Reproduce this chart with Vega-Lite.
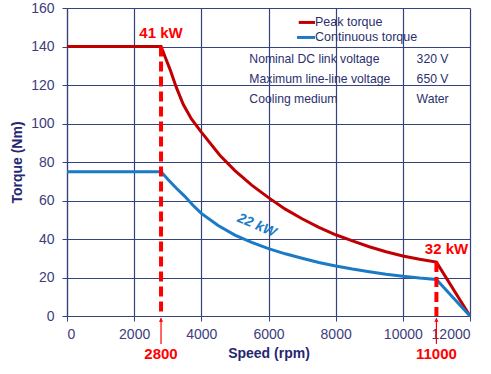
{
  "$schema": "https://vega.github.io/schema/vega-lite/v6.json",
  "width": 403,
  "height": 308,
  "autosize": {"type": "none"},
  "padding": {"left": 67, "top": 8, "right": 21, "bottom": 58},
  "background": "white",
  "config": {
    "font": "Liberation Sans",
    "view": {"stroke": null},
    "axis": {
      "gridColor": "#34437f",
      "gridWidth": 1.2,
      "gridOpacity": 1,
      "domainColor": "#34437f",
      "domainWidth": 1.2,
      "tickColor": "#34437f",
      "tickSize": 5,
      "labelFontSize": 14,
      "labelColor": "#3d3d7d",
      "titleFontSize": 14,
      "titleFontWeight": "bold",
      "titleColor": "#262673"
    }
  },
  "datasets": {
    "curves": [
      {"series": "Peak torque", "rpm": 0, "torque": 140},
      {"series": "Peak torque", "rpm": 2800, "torque": 140},
      {"series": "Peak torque", "rpm": 3070, "torque": 128},
      {"series": "Peak torque", "rpm": 3250, "torque": 119},
      {"series": "Peak torque", "rpm": 3460, "torque": 110},
      {"series": "Peak torque", "rpm": 3700, "torque": 102.5},
      {"series": "Peak torque", "rpm": 4000, "torque": 95.5},
      {"series": "Peak torque", "rpm": 4550, "torque": 83.5},
      {"series": "Peak torque", "rpm": 5000, "torque": 75.5},
      {"series": "Peak torque", "rpm": 5500, "torque": 68},
      {"series": "Peak torque", "rpm": 6000, "torque": 61.5},
      {"series": "Peak torque", "rpm": 6500, "torque": 55.5},
      {"series": "Peak torque", "rpm": 7000, "torque": 50.5},
      {"series": "Peak torque", "rpm": 7500, "torque": 46},
      {"series": "Peak torque", "rpm": 8000, "torque": 42.2},
      {"series": "Peak torque", "rpm": 8500, "torque": 39},
      {"series": "Peak torque", "rpm": 9000, "torque": 36},
      {"series": "Peak torque", "rpm": 9500, "torque": 33.4},
      {"series": "Peak torque", "rpm": 10000, "torque": 31.2},
      {"series": "Peak torque", "rpm": 10500, "torque": 29.5},
      {"series": "Peak torque", "rpm": 11000, "torque": 28},
      {"series": "Peak torque", "rpm": 12000, "torque": 0},
      {"series": "Continuous torque", "rpm": 0, "torque": 75},
      {"series": "Continuous torque", "rpm": 2800, "torque": 75},
      {"series": "Continuous torque", "rpm": 3000, "torque": 71},
      {"series": "Continuous torque", "rpm": 3250, "torque": 66.5},
      {"series": "Continuous torque", "rpm": 3500, "torque": 62.3},
      {"series": "Continuous torque", "rpm": 3750, "torque": 57.5},
      {"series": "Continuous torque", "rpm": 4000, "torque": 53.3},
      {"series": "Continuous torque", "rpm": 4500, "torque": 47},
      {"series": "Continuous torque", "rpm": 5000, "torque": 42},
      {"series": "Continuous torque", "rpm": 5500, "torque": 38.2},
      {"series": "Continuous torque", "rpm": 6000, "torque": 35},
      {"series": "Continuous torque", "rpm": 6500, "torque": 32.3},
      {"series": "Continuous torque", "rpm": 7000, "torque": 30},
      {"series": "Continuous torque", "rpm": 7500, "torque": 27.8},
      {"series": "Continuous torque", "rpm": 8000, "torque": 26},
      {"series": "Continuous torque", "rpm": 8500, "torque": 24.4},
      {"series": "Continuous torque", "rpm": 9000, "torque": 23},
      {"series": "Continuous torque", "rpm": 9500, "torque": 21.7},
      {"series": "Continuous torque", "rpm": 10000, "torque": 20.6},
      {"series": "Continuous torque", "rpm": 10500, "torque": 19.7},
      {"series": "Continuous torque", "rpm": 11000, "torque": 19},
      {"series": "Continuous torque", "rpm": 12000, "torque": 0}
    ],
    "legendRows": [
      {"series": "Peak torque", "rpm": 6900, "rpmEnd": 7385, "torque": 152.5, "label": "Peak torque"},
      {"series": "Continuous torque", "rpm": 6850, "rpmEnd": 7385, "torque": 144.7, "label": "Continuous torque"}
    ],
    "dashes": [
      {"rpm": 2800, "torque": 140, "base": 0},
      {"rpm": 11000, "torque": 28, "base": 0}
    ],
    "arrows": [
      {"rpm": 2800, "torque": -1, "bottom": -14.5},
      {"rpm": 11000, "torque": -1, "bottom": -14.5}
    ],
    "tips": [
      {"rpm": 2800, "torque": -2},
      {"rpm": 11000, "torque": -2}
    ],
    "redLabels": [
      {"rpm": 2800, "torque": -19.5, "label": "2800"},
      {"rpm": 11000, "torque": -19.5, "label": "11000"},
      {"rpm": 2800, "torque": 147, "label": "41 kW"},
      {"rpm": 11300, "torque": 35, "label": "32 kW"}
    ],
    "table": [
      {"rpm": 5430, "torque": 133.6, "text": "Nominal DC link voltage"},
      {"rpm": 5430, "torque": 123.2, "text": "Maximum line-line voltage"},
      {"rpm": 5430, "torque": 112.8, "text": "Cooling medium"},
      {"rpm": 10410, "torque": 133.6, "text": "320 V"},
      {"rpm": 10410, "torque": 123.2, "text": "650 V"},
      {"rpm": 10410, "torque": 112.8, "text": "Water"}
    ]
  },
  "encoding": {
    "x": {
      "field": "rpm", "type": "quantitative",
      "scale": {"domain": [0, 12000], "nice": false},
      "axis": {"values": [0, 2000, 4000, 6000, 8000, 10000, 12000], "format": "d", "title": "Speed (rpm)", "labelPadding": 6, "titlePadding": 5}
    },
    "y": {
      "field": "torque", "type": "quantitative",
      "scale": {"domain": [0, 160], "nice": false},
      "axis": {"values": [0, 20, 40, 60, 80, 100, 120, 140, 160], "title": "Torque (Nm)", "labelPadding": 8, "titlePadding": 6}
    }
  },
  "layer": [
    {
      "data": {"name": "curves"},
      "mark": {"type": "line", "strokeWidth": 3},
      "encoding": {
        "color": {
          "field": "series", "type": "nominal",
          "scale": {"domain": ["Peak torque", "Continuous torque"], "range": ["#c00000", "#1a7ac6"]},
          "legend": null
        },
        "order": {"field": "rpm", "type": "quantitative"}
      }
    },
    {
      "data": {"name": "legendRows"},
      "mark": {"type": "rule", "strokeWidth": 3},
      "encoding": {
        "x2": {"field": "rpmEnd"},
        "color": {"field": "series", "type": "nominal", "legend": null}
      }
    },
    {
      "data": {"name": "legendRows"},
      "mark": {"type": "text", "color": "#2b2f6e", "fontSize": 12.5, "align": "left", "baseline": "middle"},
      "encoding": {
        "x": {"field": "rpmEnd", "type": "quantitative"},
        "text": {"field": "label", "type": "nominal"}
      }
    },
    {
      "data": {"name": "dashes"},
      "mark": {"type": "rule", "color": "#ff0000", "strokeWidth": 4, "strokeDash": [10, 5]},
      "encoding": {
        "y2": {"field": "base"}
      }
    },
    {
      "data": {"name": "arrows"},
      "mark": {"type": "rule", "color": "#ff0000", "strokeWidth": 1.2},
      "encoding": {
        "y2": {"field": "bottom"}
      }
    },
    {
      "data": {"name": "tips"},
      "mark": {"type": "point", "shape": "triangle-up", "filled": true, "color": "#ff0000", "size": 18, "opacity": 1},
      "encoding": {}
    },
    {
      "data": {"name": "redLabels"},
      "mark": {"type": "text", "color": "#ff0000", "fontSize": 15, "fontWeight": "bold", "baseline": "middle"},
      "encoding": {
        "text": {"field": "label", "type": "nominal"}
      }
    },
    {
      "data": {"values": [{"rpm": 5650, "torque": 47, "label": "22 kW"}]},
      "mark": {"type": "text", "color": "#1a7ac6", "fontSize": 14, "fontWeight": "bold", "fontStyle": "italic", "angle": 23, "baseline": "middle"},
      "encoding": {
        "text": {"field": "label", "type": "nominal"}
      }
    },
    {
      "data": {"name": "table"},
      "mark": {"type": "text", "color": "#2b2f6e", "fontSize": 12.2, "align": "left", "baseline": "middle"},
      "encoding": {
        "text": {"field": "text", "type": "nominal"}
      }
    }
  ]
}
